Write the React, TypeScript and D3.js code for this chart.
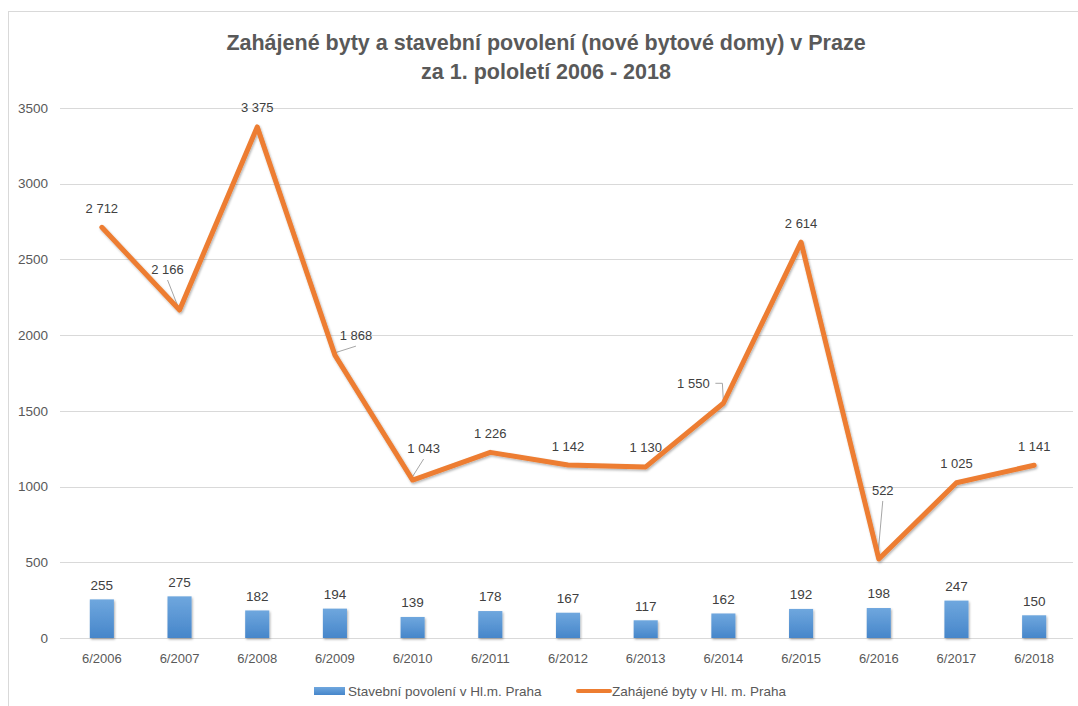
import * as d3 from 'd3';

// chart data
const categories = ['6/2006', '6/2007', '6/2008', '6/2009', '6/2010', '6/2011', '6/2012',
  '6/2013', '6/2014', '6/2015', '6/2016', '6/2017', '6/2018'];
const permits = [255, 275, 182, 194, 139, 178, 167, 117, 162, 192, 198, 247, 150];
const started = [2712, 2166, 3375, 1868, 1043, 1226, 1142, 1130, 1550, 2614, 522, 1025, 1141];
const yTicks = [0, 500, 1000, 1500, 2000, 2500, 3000, 3500];
const titleLines = ['Zahájené byty a stavební povolení (nové bytové domy) v Praze', 'za 1. pololetí 2006 - 2018'];
const permitsName = 'Stavební povolení v Hl.m. Praha';
const startedName = 'Zahájené byty v Hl. m. Praha';

const W = 1078;
const H = 706;
const margin = { top: 108, right: 5, bottom: 68, left: 63 };
const FONT = '"Liberation Sans", Arial, sans-serif';
const TEXT = '#595959';

// label nudges for the line labels (px relative to the point), like excel moved them
const lineLabelNudge: { dx: number; dy: number; leader?: 'line' | 'elbow' }[] = [
  { dx: 0, dy: -19 },
  { dx: -12, dy: -41, leader: 'line' },
  { dx: 0, dy: -19 },
  { dx: 21, dy: -20, leader: 'line' },
  { dx: 11, dy: -32, leader: 'line' },
  { dx: 0, dy: -19 },
  { dx: 0, dy: -19 },
  { dx: 0, dy: -19 },
  { dx: -30, dy: -20, leader: 'elbow' },
  { dx: 0, dy: -19 },
  { dx: 4, dy: -69, leader: 'line' },
  { dx: 0, dy: -19 },
  { dx: 0, dy: -19 },
];

const fmt = (v: number) => d3.format(',')(v).replace(/,/g, ' ');

export default function App() {
  const x = d3.scaleBand<string>()
    .domain(categories)
    .range([margin.left, W - margin.right])
    .paddingInner(0)
    .paddingOuter(0);

  const y = d3.scaleLinear()
    .domain([0, 3500])
    .range([H - margin.bottom, margin.top]);

  const cx = (c: string) => (x(c) as number) + x.bandwidth() / 2;
  const barW = x.bandwidth() * 0.31;

  const line = d3.line<number>()
    .x((_, i) => cx(categories[i]))
    .y(d => y(d));

  return (
    <div style={{ position: 'absolute', left: 0, top: 0 }}>
      <svg width={W} height={H} style={{ display: 'block', background: '#fff' }}>
        <defs>
          <linearGradient id="barGrad" x1="0" y1="0" x2="0" y2="1">
            <stop offset="0%" stopColor="#6fa7de" />
            <stop offset="100%" stopColor="#4686ca" />
          </linearGradient>
          <filter id="shadow" x="-20%" y="-20%" width="140%" height="140%">
            <feDropShadow dx="1" dy="1.5" stdDeviation="1.2" floodColor="#000" floodOpacity="0.3" />
          </filter>
        </defs>

        {/* chart border */}
        <rect x={8.5} y={11.5} width={W} height={H} fill="none" stroke="#d9d9d9" />

        {/* title */}
        {titleLines.map((t, i) => (
          <text key={i} x={546} y={50 + i * 29} textAnchor="middle" fontFamily={FONT}
            fontWeight="bold" fontSize={21.5} fill={TEXT}>{t}</text>
        ))}

        {/* grid + y ticks */}
        {yTicks.map(t => (
          <g key={t}>
            <line x1={margin.left - 3} x2={W - margin.right} y1={Math.round(y(t)) + 0.5} y2={Math.round(y(t)) + 0.5}
              stroke="#d9d9d9" strokeWidth={1} />
            <text x={48} y={y(t)} dy="0.35em" textAnchor="end" fontFamily={FONT} fontSize={13.5} fill={TEXT}>{t}</text>
          </g>
        ))}

        {/* x labels */}
        {categories.map(c => (
          <text key={c} x={cx(c)} y={658} dy="0.35em" textAnchor="middle" fontFamily={FONT} fontSize={13} fill={TEXT}>{c}</text>
        ))}

        {/* bars */}
        <g filter="url(#shadow)">
          {permits.map((v, i) => (
            <rect key={i} x={cx(categories[i]) - barW / 2} y={y(v)} width={barW} height={y(0) - y(v)} fill="url(#barGrad)" />
          ))}
        </g>
        {permits.map((v, i) => (
          <text key={i} x={cx(categories[i])} y={y(v) - 14.5} dy="0.35em" textAnchor="middle"
            fontFamily={FONT} fontSize={13.5} fill="#404040">{v}</text>
        ))}

        {/* leader lines */}
        {started.map((v, i) => {
          const n = lineLabelNudge[i];
          if (!n.leader) return null;
          const px = cx(categories[i]);
          const py = y(v);
          const lx = px + n.dx;
          const ly = py + n.dy;
          if (n.leader === 'elbow') {
            const ex = lx + 22;
            return <polyline key={i} points={`${ex},${ly} ${px - 1},${ly} ${px},${py - 2}`} fill="none" stroke="#a6a6a6" strokeWidth={1} />;
          }
          return <line key={i} x1={lx} y1={ly + 11} x2={px - 1} y2={py - 2} stroke="#a6a6a6" strokeWidth={1} />;
        })}

        {/* line */}
        <path d={line(started) ?? ''} fill="none" stroke="#ed7d31" strokeWidth={5}
          strokeLinejoin="round" strokeLinecap="round" filter="url(#shadow)" />

        {started.map((v, i) => {
          const n = lineLabelNudge[i];
          return (
            <text key={i} x={cx(categories[i]) + n.dx} y={y(v) + n.dy} dy="0.35em" textAnchor="middle"
              fontFamily={FONT} fontSize={13} fill="#404040">{fmt(v)}</text>
          );
        })}

        {/* legend */}
        <rect x={314} y={687} width={31} height={8} fill="url(#barGrad)" />
        <text x={348} y={691} dy="0.35em" fontFamily={FONT} fontSize={13.5} fill={TEXT}>{permitsName}</text>
        <line x1={578} x2={610} y1={691} y2={691} stroke="#ed7d31" strokeWidth={4} strokeLinecap="round" />
        <text x={612} y={691} dy="0.35em" fontFamily={FONT} fontSize={13.5} fill={TEXT}>{startedName}</text>
      </svg>
    </div>
  );
}
